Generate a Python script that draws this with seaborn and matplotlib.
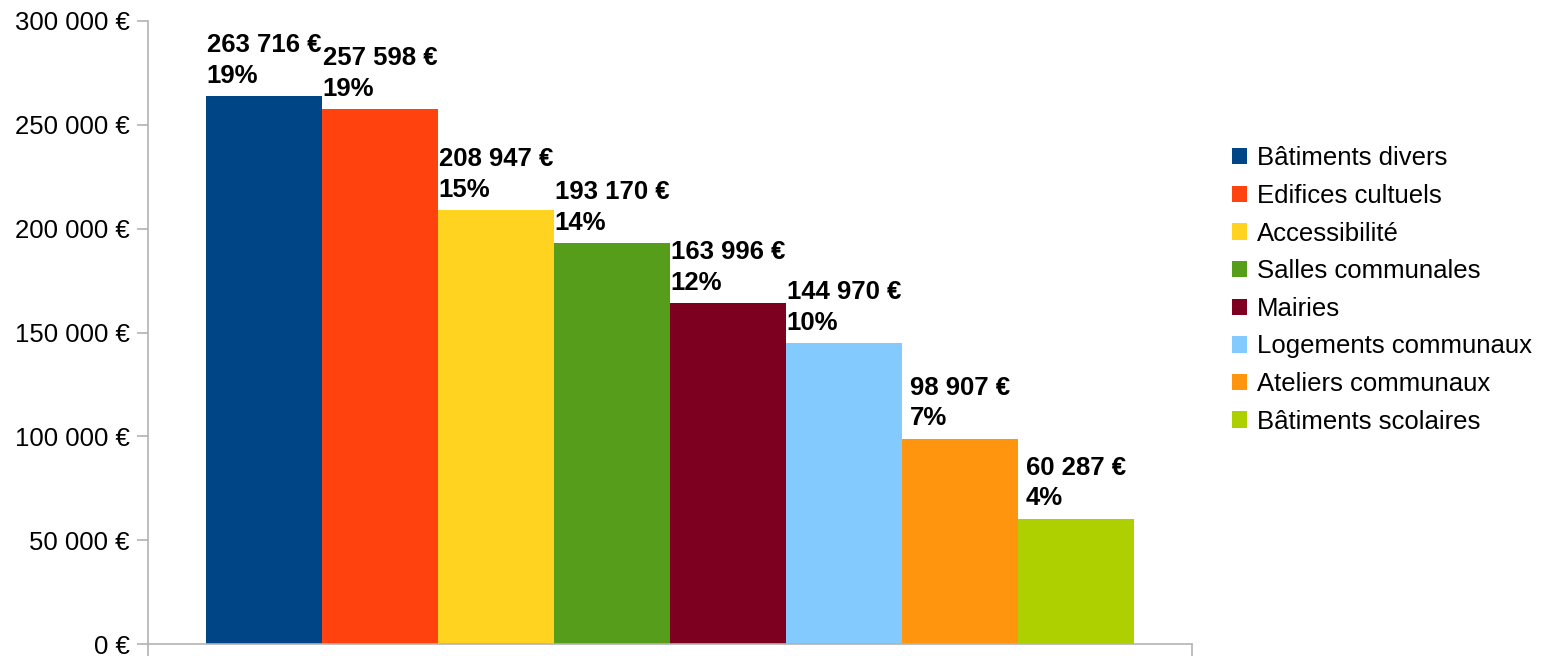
import pandas as pd
import matplotlib
matplotlib.use("Agg")
import matplotlib.pyplot as plt
import seaborn as sns

# données
types = ['Bâtiments divers', 'Edifices cultuels', 'Accessibilité', 'Salles communales',
         'Mairies', 'Logements communaux', 'Ateliers communaux', 'Bâtiments scolaires']
montants = [263716, 257598, 208947, 193170, 163996, 144970, 98907, 60287]
pourcents = ['19%', '19%', '15%', '14%', '12%', '10%', '7%', '4%']
couleurs = ['#004586', '#ff420e', '#ffd320', '#579d1c', '#7e0021', '#83caff', '#ff950e', '#aecf00']
yticks = [0, 50000, 100000, 150000, 200000, 250000, 300000]


def euros(v):
    return f"{v:,.0f} €".replace(",", " ")


sns.set_style("white")
plt.rcParams['font.family'] = ['Liberation Sans', 'DejaVu Sans']
plt.rcParams['text.color'] = 'black'
plt.rcParams['ytick.labelcolor'] = 'black'

fs = 18.5
df = pd.DataFrame({'groupe': [''] * len(types), 'type': types, 'montant': montants})

fig = plt.figure(figsize=(15.43, 6.56), dpi=100)
ax = fig.add_axes([148 / 1543, 1 - 644 / 656, (1192 - 148) / 1543, (644 - 21) / 656])

sns.barplot(data=df, x='groupe', y='montant', hue='type', hue_order=types,
            palette=couleurs, saturation=1, width=0.8, linewidth=0, ax=ax)

ax.set_xlim(-0.45, 0.45)
ax.set_ylim(0, 300000)
ax.set_yticks(yticks)
ax.set_yticklabels([euros(v) for v in yticks], fontsize=fs, color='black')
ax.set_xticks([-0.45, 0.45])
ax.set_xticklabels(['', ''])
ax.set_xlabel('')
ax.set_ylabel('')

gris = '#b3b3b3'
for s in ['top', 'right']:
    ax.spines[s].set_visible(False)
for s in ['left', 'bottom']:
    ax.spines[s].set_color(gris)
    ax.spines[s].set_linewidth(1.2)
ax.tick_params(axis='y', direction='out', length=8, width=1.2, color=gris, pad=5, left=True)
ax.tick_params(axis='x', direction='out', length=9, width=1.2, color=gris, bottom=True)

# étiquettes au-dessus des barres (bloc centré, lignes alignées à gauche)
for cont, m, p in zip(ax.containers, montants, pourcents):
    bar = cont.patches[0]
    ax.annotate(f"{euros(m)}\n{p}", xy=(bar.get_x() + bar.get_width() / 2, bar.get_height()),
                xytext=(0, 6), textcoords='offset points', ha='center', va='bottom',
                multialignment='left', fontsize=fs, fontweight='bold',
                linespacing=1.35, color='black')

leg = ax.legend(loc='center left', bbox_to_anchor=(1232 / 1543, 1 - 290 / 656),
                bbox_transform=fig.transFigure, frameon=False, fontsize=fs,
                handlelength=0.6, handleheight=0.6, handletextpad=0.38,
                labelspacing=0.53, borderpad=0, borderaxespad=0)
for t in leg.get_texts():
    t.set_color('black')

fig.savefig('out.png', dpi=100)
